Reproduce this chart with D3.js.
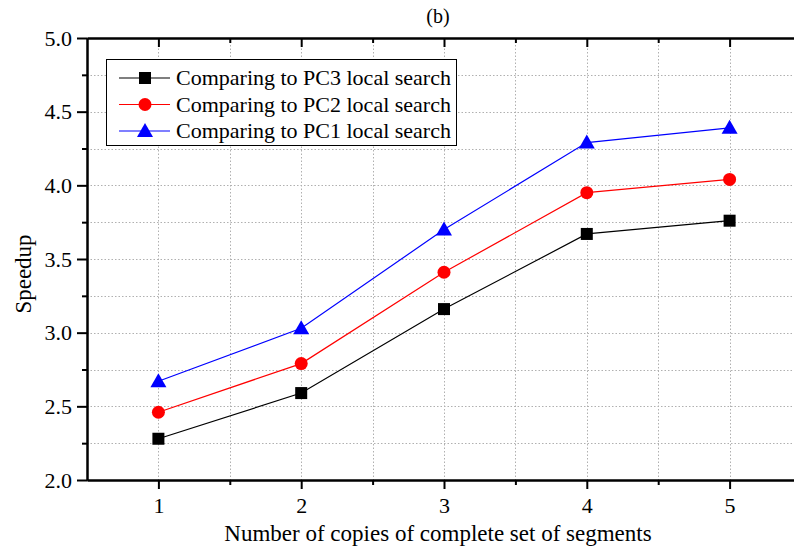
<!DOCTYPE html>
<html>
<head>
<meta charset="utf-8">
<script src="https://cdn.jsdelivr.net/npm/d3@7"></script>
<style>
  body { margin: 0; background: #fff; }
  svg { font-family: "Liberation Serif", "Times New Roman", serif; }
</style>
</head>
<body>
<div id="chart"></div>
<script>
'use strict';

// data
const copies = [1, 2, 3, 4, 5];
const pc3 = [2.28, 2.59, 3.16, 3.67, 3.76];
const pc2 = [2.46, 2.79, 3.41, 3.95, 4.04];
const pc1 = [2.67, 3.03, 3.70, 4.29, 4.39];
const seriesNames = ['Comparing to PC3 local search', 'Comparing to PC2 local search', 'Comparing to PC1 local search'];
const seriesColors = ['#000000', '#ff0000', '#0000ff'];
const seriesShapes = ['square', 'circle', 'triangle'];
const yTicks = [2.0, 2.5, 3.0, 3.5, 4.0, 4.5, 5.0];
const yMinor = [2.25, 2.75, 3.25, 3.75, 4.25, 4.75];
const xMinor = [1.5, 2.5, 3.5, 4.5];

const W = 794, H = 547;
const plotL = 87, plotR = 801, plotT = 38, plotB = 480;

const svg = d3.select('#chart').append('svg')
  .attr('width', W).attr('height', H);

const x = d3.scaleLinear().domain([0.5, 5.5]).range([plotL, plotR]);
const y = d3.scaleLinear().domain([2, 5]).range([plotB, plotT]);

// grid
const grid = svg.append('g').attr('stroke', '#b0b0b0').attr('stroke-dasharray', '1.5,2').attr('stroke-width', 1);
copies.concat(xMinor).forEach(v => {
  grid.append('line').attr('x1', Math.round(x(v)) + 0.5).attr('x2', Math.round(x(v)) + 0.5).attr('y1', plotT).attr('y2', plotB);
});
yTicks.concat(yMinor).filter(v => v > 2 && v < 5).forEach(v => {
  grid.append('line').attr('x1', plotL).attr('x2', plotR).attr('y1', Math.round(y(v)) + 0.5).attr('y2', Math.round(y(v)) + 0.5);
});

// axes
const axisStyle = g => {
  g.selectAll('path').attr('stroke', '#000').attr('stroke-width', 2);
  g.selectAll('line').attr('stroke', '#000').attr('stroke-width', 2);
  g.selectAll('text').attr('font-family', '"Liberation Serif", serif').attr('font-size', 22).attr('fill', '#000');
};

svg.append('g').attr('transform', `translate(0,${plotB})`)
  .call(d3.axisBottom(x).tickValues(copies).tickFormat(d3.format('d')).tickSize(9).tickSizeOuter(0).tickPadding(8))
  .call(axisStyle);
svg.append('g').attr('transform', `translate(0,${plotB})`)
  .call(d3.axisBottom(x).tickValues(xMinor).tickFormat('').tickSize(5).tickSizeOuter(0))
  .call(axisStyle);

svg.append('g').attr('transform', `translate(0,${plotT})`)
  .call(d3.axisBottom(x).tickValues(copies).tickFormat('').tickSize(9).tickSizeOuter(0))
  .call(axisStyle);
svg.append('g').attr('transform', `translate(0,${plotT})`)
  .call(d3.axisBottom(x).tickValues(xMinor).tickFormat('').tickSize(5).tickSizeOuter(0))
  .call(axisStyle);

svg.append('g').attr('transform', `translate(${plotL},0)`)
  .call(d3.axisLeft(y).tickValues(yTicks).tickFormat(d3.format('.1f')).tickSize(10).tickSizeOuter(0).tickPadding(5))
  .call(axisStyle);
svg.append('g').attr('transform', `translate(${plotL},0)`)
  .call(d3.axisLeft(y).tickValues(yMinor).tickFormat('').tickSize(5).tickSizeOuter(0))
  .call(axisStyle);

// series
const allSeries = [pc3, pc2, pc1];
const line = d3.line().x((d, i) => x(copies[i])).y(d => y(d));

function drawMarker(g, shape, color, cx, cy) {
  if (shape === 'square') {
    g.append('rect').attr('x', cx - 6).attr('y', cy - 6).attr('width', 12).attr('height', 12).attr('fill', color);
  } else if (shape === 'circle') {
    g.append('circle').attr('cx', cx).attr('cy', cy).attr('r', 6.5).attr('fill', color);
  } else {
    g.append('path').attr('d', `M${cx},${cy - 8}L${cx + 8},${cy + 6}L${cx - 8},${cy + 6}Z`).attr('fill', color);
  }
}

allSeries.forEach((vals, s) => {
  const g = svg.append('g');
  g.append('path').datum(vals).attr('d', line).attr('fill', 'none')
    .attr('stroke', seriesColors[s]).attr('stroke-width', 1.2);
  vals.forEach((v, i) => drawMarker(g, seriesShapes[s], seriesColors[s], x(copies[i]), y(v)));
});

// legend
const legend = svg.append('g');
legend.append('rect').attr('x', 106.5).attr('y', 59.5).attr('width', 350).attr('height', 86)
  .attr('fill', '#fff').attr('stroke', '#000').attr('stroke-width', 1);
seriesNames.forEach((name, i) => {
  const ly = 78 + i * 26.5;
  legend.append('line').attr('x1', 119).attr('x2', 170).attr('y1', ly).attr('y2', ly)
    .attr('stroke', seriesColors[i]).attr('stroke-width', 1.2);
  drawMarker(legend, seriesShapes[i], seriesColors[i], 145, ly);
  legend.append('text').attr('x', 176).attr('y', ly + 7).attr('font-size', 22).text(name);
});

// titles
svg.append('text').attr('x', 438).attr('y', 23).attr('text-anchor', 'middle').attr('font-size', 20).text('(b)');
svg.append('text').attr('x', 438).attr('y', 541).attr('text-anchor', 'middle').attr('font-size', 23)
  .text('Number of copies of complete set of segments');
svg.append('text').attr('transform', 'translate(31,274) rotate(-90)').attr('text-anchor', 'middle').attr('font-size', 23)
  .text('Speedup');
</script>
</body>
</html>
